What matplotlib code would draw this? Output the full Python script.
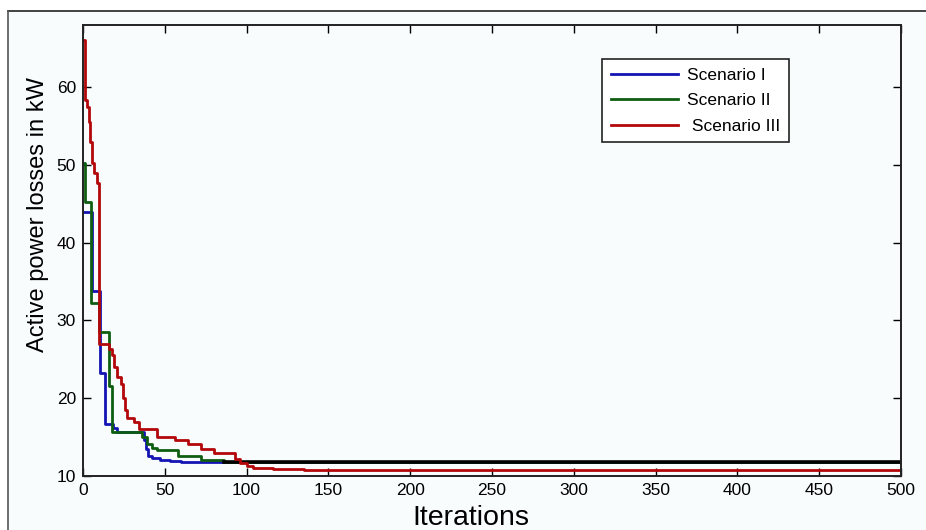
import matplotlib
matplotlib.use("Agg")
import matplotlib.pyplot as plt
from matplotlib.lines import Line2D
from matplotlib.patches import Rectangle

plt.rcParams['font.family'] = ['Liberation Sans', 'DejaVu Sans']

# ---- data ----
s1_x = [0, 5.6, 10.2, 13.5, 18.3, 21, 37, 38.5, 40, 42, 47, 53, 60, 500]
s1_y = [43.9, 33.8, 23.3, 16.7, 16.2, 15.6, 14.6, 13.5, 12.6, 12.3, 12.1, 11.9, 11.8, 11.8]

s2_x = [0, 1.2, 5.0, 9.8, 15.8, 17.5, 36, 39, 42, 45, 58, 72, 86, 500]
s2_y = [50.2, 45.3, 32.2, 28.5, 21.6, 15.6, 15.0, 14.1, 13.6, 13.3, 12.6, 12.1, 11.8, 11.8]

s3_x = [0, 1.5, 2.5, 3.5, 4.5, 5.5, 7, 8.5, 10, 16, 17.5, 19, 20.5, 23, 24.5, 25.5, 27, 31,
        34, 45, 56, 64, 72, 80, 93, 96, 100, 104, 116, 135, 500]
s3_y = [66.1, 58.4, 57.5, 55.5, 53.0, 50.3, 49.0, 47.7, 27.0, 26.3, 25.5, 24.0, 22.7, 21.8,
        20.0, 18.5, 17.5, 17.0, 16.0, 15.0, 14.6, 14.1, 13.5, 12.9, 12.2, 11.7, 11.3, 11.0,
        10.9, 10.75, 10.75]

conv_x = [86, 500]
conv_y = [11.8, 11.8]

labels = ['Scenario I', 'Scenario II', ' Scenario III']
x_ticks = list(range(0, 501, 50))
y_ticks = [10, 20, 30, 40, 50, 60]

# ---- figure ----
bg = '#f8fcfd'
fig = plt.figure(figsize=(9.26, 5.30), dpi=100, facecolor='white')
fig.patches.append(Rectangle((8/926, 0), 1, 1 - 11/530, transform=fig.transFigure,
                             facecolor=bg, edgecolor='none', zorder=-10))
fig.add_artist(Line2D([8/926, 1], [1 - 11/530, 1 - 11/530], transform=fig.transFigure,
                      color='#222222', lw=1.2))
fig.add_artist(Line2D([8/926, 8/926], [0, 1 - 11/530], transform=fig.transFigure,
                      color='#555555', lw=1.2))

ax = fig.add_axes([83/926, 1 - 476/530, (901 - 83)/926, (476 - 25)/530])
ax.set_facecolor(bg)

c_blue, c_green, c_red = '#1414b4', '#0e5e12', '#b3070a'
ax.plot(s1_x, s1_y, drawstyle='steps-post', color=c_blue, lw=2.0, label=labels[0])
ax.plot(s2_x, s2_y, drawstyle='steps-post', color=c_green, lw=2.0, label=labels[1])
ax.plot(conv_x, conv_y, color='black', lw=2.6)
ax.plot(s3_x, s3_y, drawstyle='steps-post', color=c_red, lw=2.0, label=labels[2])

ax.set_xlim(0, 500)
ax.set_ylim(10, 68)
ax.set_xticks(x_ticks)
ax.set_yticks(y_ticks)
ax.tick_params(direction='in', top=True, right=True, length=6, width=1.0,
               labelsize=12.5, pad=5)
for sp in ax.spines.values():
    sp.set_linewidth(1.4)
    sp.set_color('#222222')

ax.set_xlabel('Iterations', fontsize=20.5)
ax.xaxis.set_label_coords(0.474, -0.065)
ax.set_ylabel('Active power losses in kW', fontsize=17)
ax.yaxis.set_label_coords(-0.042, 0.58)

leg = ax.legend(loc='upper right', bbox_to_anchor=(0.863, 0.925), fancybox=False,
                edgecolor='#222222', facecolor='white', framealpha=1, fontsize=12.5,
                handlelength=3.9, borderpad=0.5, labelspacing=0.6, handletextpad=0.5,
                borderaxespad=0)
leg.get_frame().set_linewidth(1.2)

fig.savefig('out.png', dpi=100, facecolor=fig.get_facecolor())
